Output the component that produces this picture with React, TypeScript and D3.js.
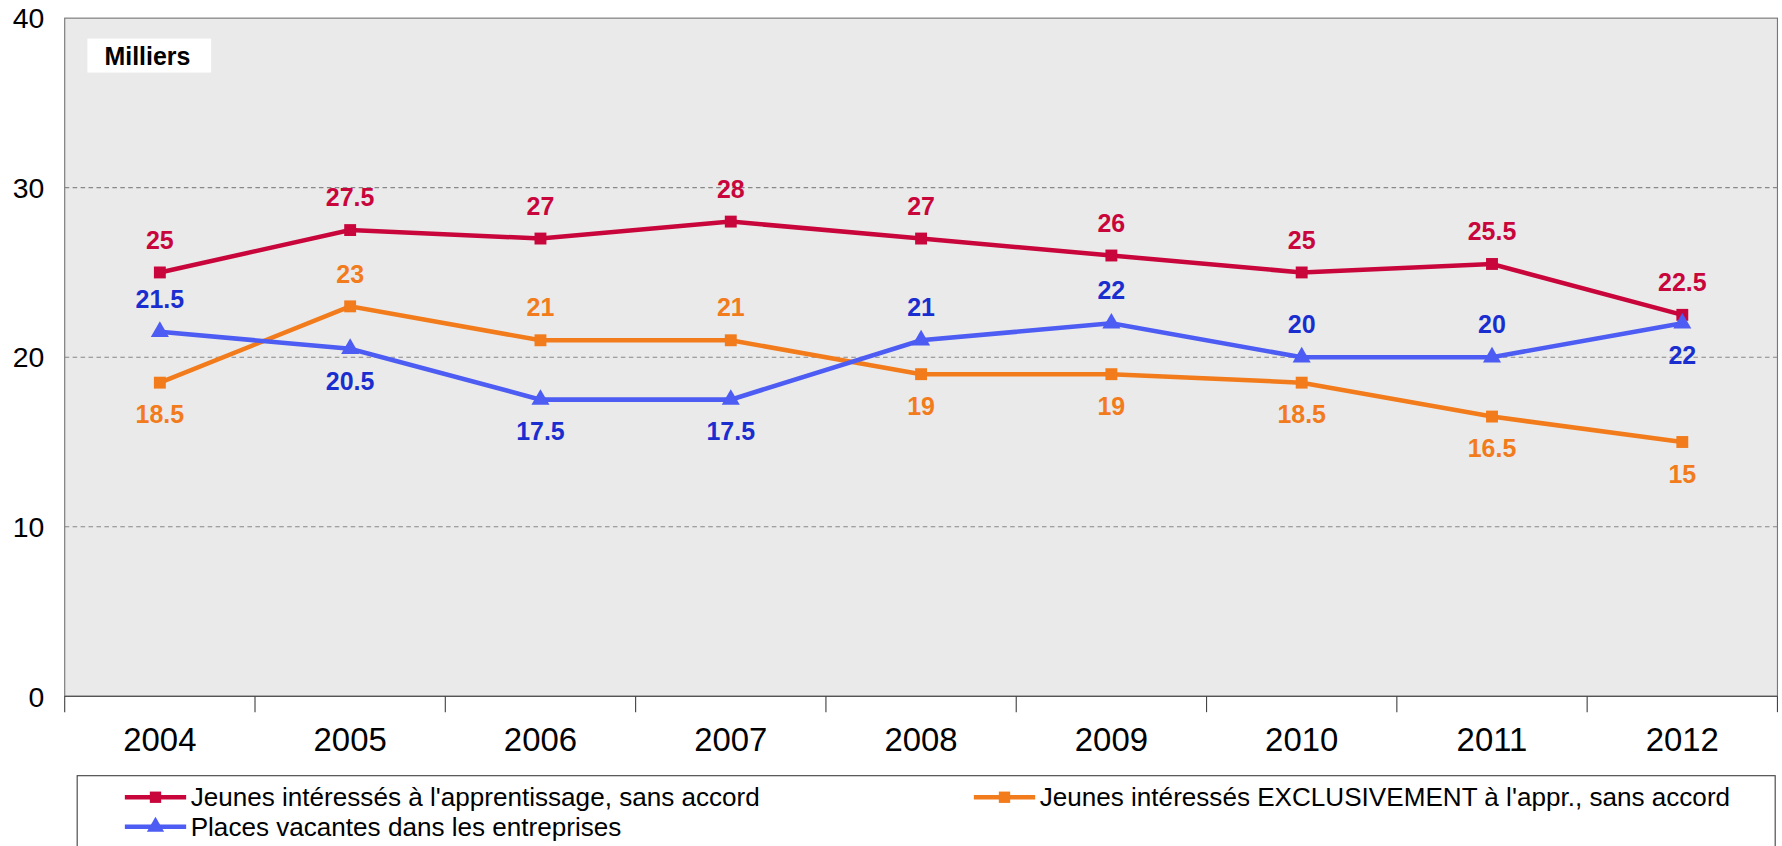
import React, { useEffect, useRef } from "react";
import * as d3 from "d3";

const years = ["2004", "2005", "2006", "2007", "2008", "2009", "2010", "2011", "2012"];
const interesses = [25, 27.5, 27, 28, 27, 26, 25, 25.5, 22.5];
const exclusivement = [18.5, 23, 21, 21, 19, 19, 18.5, 16.5, 15];
const places = [21.5, 20.5, 17.5, 17.5, 21, 22, 20, 20, 22];
const yTicks = [0, 10, 20, 30, 40];
// label placement: 1 = above, -1 = below
const posInteresses = [1, 1, 1, 1, 1, 1, 1, 1, 1];
const posExclusivement = [-1, 1, 1, 1, -1, -1, -1, -1, -1];
const posPlaces = [1, -1, -1, -1, 1, 1, 1, 1, -1];

const series = [
  { name: "Jeunes intéressés à l'apprentissage, sans accord", values: interesses, pos: posInteresses, line: "#C8063C", label: "#C8063C", symbol: d3.symbolSquare },
  { name: "Jeunes intéressés EXCLUSIVEMENT à l'appr., sans accord", values: exclusivement, pos: posExclusivement, line: "#F27B1C", label: "#F27B1C", symbol: d3.symbolSquare },
  { name: "Places vacantes dans les entreprises", values: places, pos: posPlaces, line: "#4D5CF2", label: "#1A2ED0", symbol: d3.symbolTriangle },
];

export default function App() {
  const ref = useRef<SVGSVGElement>(null);
  useEffect(() => {
    const svg = d3.select(ref.current);
    svg.selectAll("*").remove();
    const left = 57, right = 1566, top = 16, bottom = 614;
    const x = d3.scaleBand().domain(years).range([left, right]);
    const y = d3.scaleLinear().domain([0, 40]).range([bottom, top]);
    const font = "Arial, 'Liberation Sans', sans-serif";

    svg.append("rect").attr("x", left).attr("y", top).attr("width", right - left).attr("height", bottom - top)
      .attr("fill", "#EAEAEA").attr("stroke", "#777").attr("stroke-width", 1);

    yTicks.filter(t => t > 0 && t < 40).forEach(t => {
      svg.append("line").attr("x1", left).attr("x2", right).attr("y1", y(t)).attr("y2", y(t))
        .attr("stroke", "#888").attr("stroke-dasharray", "4,3");
    });
    yTicks.forEach(t => {
      svg.append("text").attr("x", 39).attr("y", y(t) + 9).attr("text-anchor", "end")
        .attr("font-family", font).attr("font-size", 25).text(t);
    });
    svg.append("line").attr("x1", left).attr("x2", right).attr("y1", bottom).attr("y2", bottom).attr("stroke", "#444");
    [...years.map(d => x(d)!), right].forEach(px => {
      svg.append("line").attr("x1", px).attr("x2", px).attr("y1", bottom).attr("y2", bottom + 14).attr("stroke", "#444");
    });
    years.forEach(d => {
      svg.append("text").attr("x", x(d)! + x.bandwidth() / 2).attr("y", 662).attr("text-anchor", "middle")
        .attr("font-family", font).attr("font-size", 29).text(d);
    });

    svg.append("rect").attr("x", 77).attr("y", 34).attr("width", 109).attr("height", 30).attr("fill", "#fff");
    svg.append("text").attr("x", 92).attr("y", 57).attr("font-family", font).attr("font-size", 22)
      .attr("font-weight", "bold").text("Milliers");

    const cx = (i: number) => x(years[i])! + x.bandwidth() / 2;
    series.forEach(s => {
      const line = d3.line<number>().x((_, i) => cx(i)).y(v => y(v));
      svg.append("path").attr("d", line(s.values)!).attr("fill", "none").attr("stroke", s.line).attr("stroke-width", 4);
      s.values.forEach((v, i) => {
        svg.append("path").attr("d", d3.symbol().type(s.symbol).size(110)()!)
          .attr("transform", `translate(${cx(i)},${y(v)})`).attr("fill", s.line);
        svg.append("text").attr("x", cx(i)).attr("y", y(v) + (s.pos[i] > 0 ? -21 : 36)).attr("text-anchor", "middle")
          .attr("font-family", font).attr("font-size", 22).attr("font-weight", "bold").attr("fill", s.label).text(v);
      });
    });

    svg.append("rect").attr("x", 68).attr("y", 684).attr("width", 1496).attr("height", 80)
      .attr("fill", "#fff").attr("stroke", "#444");
    const legendPos = [[110, 703], [858, 703], [110, 729]];
    series.forEach((s, k) => {
      const [lx, ly] = legendPos[k];
      svg.append("line").attr("x1", lx).attr("x2", lx + 54).attr("y1", ly).attr("y2", ly).attr("stroke", s.line).attr("stroke-width", 4);
      svg.append("path").attr("d", d3.symbol().type(s.symbol).size(100)()!).attr("transform", `translate(${lx + 27},${ly})`).attr("fill", s.line);
      svg.append("text").attr("x", lx + 58).attr("y", ly + 8).attr("font-family", font).attr("font-size", 23).text(s.name);
    });
  }, []);
  return <svg ref={ref} width={1782} height={846} viewBox="0 0 1570 746" preserveAspectRatio="none"
    style={{ position: "absolute", left: 0, top: 0 }} />;
}
